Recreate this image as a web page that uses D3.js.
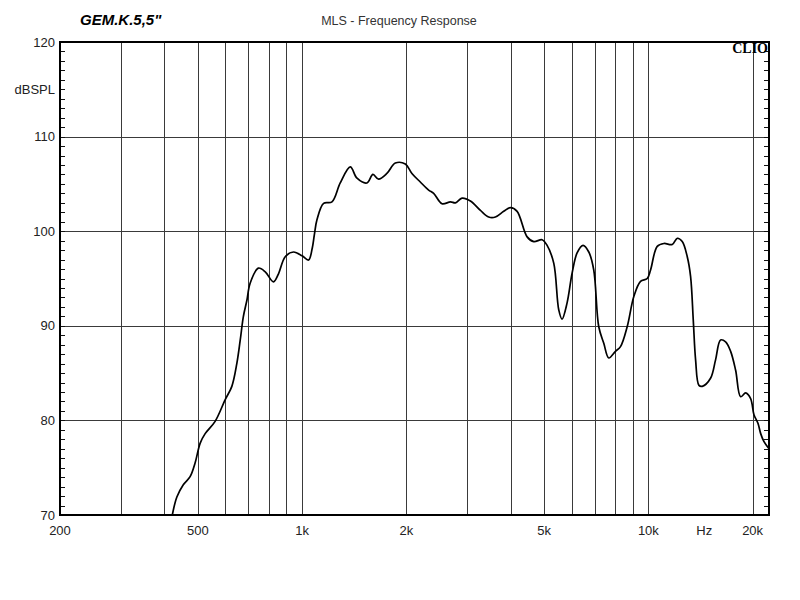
<!DOCTYPE html>
<html lang="en">
<head>
  <meta charset="UTF-8">
  <title>MLS - Frequency Response</title>
  <script src="https://cdn.jsdelivr.net/npm/d3@7"></script>
  <style>
    body { margin: 0; background: #fff; }
    text { font-family: "Liberation Sans", Arial, sans-serif; fill: #222; }
  </style>
</head>
<body>
  <svg id="chart"></svg>
  <script>
    // measured response (Hz, dB SPL)
    const freqs = [422, 435, 454, 475, 491, 508, 525, 561, 600, 627, 648, 663, 677, 693, 708, 748, 783, 827, 855, 894,
      945, 1000, 1044, 1070, 1085, 1104, 1154, 1220, 1289, 1378, 1441, 1539, 1602, 1663, 1758, 1859, 1987, 2076, 2195, 2320,
      2399, 2536, 2682, 2772, 2897, 3062, 3274, 3459, 3616, 3822, 3996, 4178, 4466, 4669, 4934, 5100, 5332, 5510, 5632, 5823,
      6022, 6225, 6478, 6729, 6955, 7190, 7434, 7685, 8035, 8308, 8685, 9078, 9491, 9923, 10146, 10606, 11086, 11719, 12116, 12525,
      12950, 13241, 13478, 13688, 13996, 14309, 15118, 15632, 16161, 16711, 17280, 17864, 18466, 19092, 19737, 20177, 20721, 21101, 21571, 22300];
    const spl = [70.0, 71.9, 73.2, 74.05, 75.5, 77.6, 78.6, 79.9, 82.2, 83.6, 86.0, 88.5, 91.0, 92.7, 94.5, 96.1, 95.7, 94.65, 95.5, 97.3,
      97.8, 97.4, 96.95, 98.2, 99.6, 101.2, 102.95, 103.1, 105.1, 106.8, 105.6, 105.1, 106.0, 105.5, 106.1, 107.2, 107.1, 106.1, 105.2, 104.35,
      104.0, 102.9, 103.1, 103.0, 103.5, 103.2, 102.2, 101.5, 101.5, 102.1, 102.5, 102.1, 99.4, 98.9, 99.1, 98.5, 96.6, 91.7, 90.7, 92.4,
      95.55, 97.7, 98.5, 97.8, 95.9, 89.9, 88.15, 86.6, 87.3, 87.8, 89.9, 93.1, 94.7, 95.0, 95.9, 98.4, 98.7, 98.6, 99.25, 98.9,
      97.3, 95.2, 90.6, 86.4, 83.7, 83.6, 84.45, 86.4, 88.5, 88.3, 87.3, 85.3, 82.5, 82.9, 82.3, 80.6, 79.7, 78.6, 77.75, 77.0];

    const gridFreqs = [300, 400, 500, 600, 700, 800, 900, 1000, 2000, 3000, 4000, 5000, 6000, 7000, 8000, 9000, 10000, 20000];
    const xLabelFreqs = [200, 500, 1000, 2000, 5000, 10000, 14500, 20000];
    const xLabels = ['200', '500', '1k', '2k', '5k', '10k', 'Hz', '20k'];
    const yGrid = [80, 90, 100, 110];
    const yLabels = [70, 80, 90, 100, 110, 120];

    const width = 800, height = 600;
    const plotLeft = 60, plotRight = 769, plotTop = 42, plotBottom = 515;

    const svg = d3.select('#chart').attr('width', width).attr('height', height);

    const x = d3.scaleLog().domain([200, 22300]).range([plotLeft, plotRight]);
    const y = d3.scaleLinear().domain([70, 120]).range([plotBottom, plotTop]);
    const crisp = v => Math.round(v) + 0.5;

    // grid
    svg.append('g').selectAll('line')
      .data(gridFreqs)
      .enter().append('line')
      .attr('x1', d => crisp(x(d))).attr('x2', d => crisp(x(d)))
      .attr('y1', plotTop).attr('y2', plotBottom)
      .attr('stroke', '#3a3a3a').attr('stroke-width', 1);

    svg.append('g').selectAll('line')
      .data(yGrid)
      .enter().append('line')
      .attr('x1', plotLeft).attr('x2', plotRight)
      .attr('y1', d => crisp(y(d))).attr('y2', d => crisp(y(d)))
      .attr('stroke', '#3a3a3a').attr('stroke-width', 1);

    // inner minor ticks, 1 dB
    const minor = d3.range(71, 120);
    svg.append('g').selectAll('line')
      .data(minor)
      .enter().append('line')
      .attr('x1', plotLeft).attr('x2', plotLeft + 5)
      .attr('y1', d => crisp(y(d))).attr('y2', d => crisp(y(d)))
      .attr('stroke', '#111');
    svg.append('g').selectAll('line')
      .data(minor)
      .enter().append('line')
      .attr('x1', plotRight - 5).attr('x2', plotRight)
      .attr('y1', d => crisp(y(d))).attr('y2', d => crisp(y(d)))
      .attr('stroke', '#111');

    // frame
    svg.append('rect')
      .attr('x', plotLeft).attr('y', plotTop)
      .attr('width', plotRight - plotLeft).attr('height', plotBottom - plotTop)
      .attr('fill', 'none').attr('stroke', '#000').attr('stroke-width', 2);

    // response curve
    const line = d3.line()
      .x((d, i) => x(freqs[i]))
      .y(d => y(d))
      .curve(d3.curveCatmullRom.alpha(0.5));

    svg.append('path')
      .datum(spl)
      .attr('d', line)
      .attr('fill', 'none')
      .attr('stroke', '#000')
      .attr('stroke-width', 1.7)
      .attr('stroke-linejoin', 'round');

    // y labels
    svg.append('g').selectAll('text')
      .data(yLabels)
      .enter().append('text')
      .attr('x', 55).attr('y', d => y(d))
      .attr('text-anchor', 'end').attr('dominant-baseline', 'central')
      .style('font-size', '13px')
      .text(d => d);
    svg.append('text')
      .attr('x', 55).attr('y', y(115))
      .attr('text-anchor', 'end').attr('dominant-baseline', 'central')
      .style('font-size', '13px')
      .text('dBSPL');

    // x labels
    svg.append('g').selectAll('text')
      .data(xLabelFreqs)
      .enter().append('text')
      .attr('x', d => x(d)).attr('y', 530)
      .attr('text-anchor', 'middle').attr('dominant-baseline', 'central')
      .style('font-size', '13px')
      .text((d, i) => xLabels[i]);

    // titles
    svg.append('text')
      .attr('x', 399).attr('y', 25)
      .attr('text-anchor', 'middle')
      .style('font-size', '12.5px')
      .style('fill', '#333')
      .text('MLS - Frequency Response');

    svg.append('text')
      .attr('x', 80).attr('y', 25)
      .style('font-size', '15px').style('font-weight', 'bold').style('font-style', 'italic')
      .style('fill', '#000')
      .text('GEM.K.5,5"');

    svg.append('text')
      .attr('x', 768).attr('y', 53)
      .attr('text-anchor', 'end')
      .style('font-family', '"Liberation Serif", "DejaVu Serif", serif')
      .style('font-size', '14px').style('font-weight', 'bold')
      .style('fill', '#000')
      .text('CLIO');
  </script>
</body>
</html>
